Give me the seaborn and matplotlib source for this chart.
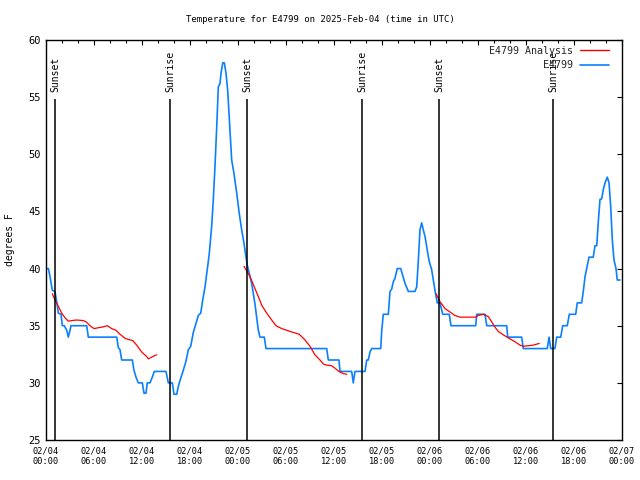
import pandas as pd
import matplotlib
matplotlib.use("Agg")
import matplotlib.pyplot as plt
import matplotlib.dates as mdates
from matplotlib.lines import Line2D
import seaborn as sns

# hours after 2025-02-04 00:00 UTC
obs_hours = [0.0, 0.3, 0.5, 0.79, 1.12, 1.34, 1.54, 1.88, 2.04, 2.29, 2.59, 2.79, 3.0, 3.12,
             5.09, 5.29, 8.84, 9.04, 9.25, 9.46, 10.79, 11.0, 11.25, 11.54, 12.04, 12.25,
             12.5, 12.66, 13.0, 13.29, 13.54, 15.0, 15.29, 15.79, 16.0, 16.34, 16.54, 16.84,
             17.16, 17.5, 17.79, 18.09, 18.41, 18.75, 19.04, 19.34, 19.59, 19.88, 20.16,
             20.41, 20.71, 20.91, 21.12, 21.34, 21.54, 21.75, 21.88, 22.09, 22.29, 22.5,
             22.71, 23.0, 23.21, 23.5, 23.84, 24.16, 24.46, 24.75, 25.0, 25.16, 25.5, 25.71,
             25.91, 26.12, 26.34, 26.54, 26.75, 27.29, 27.5, 35.09, 35.29, 36.62, 36.75,
             38.21, 38.41, 38.62, 39.88, 40.09, 40.29, 40.5, 40.71, 41.84, 41.96, 42.16,
             42.79, 43.0, 43.21, 43.41, 43.62, 43.91, 44.34, 44.59, 44.88, 45.29, 46.12,
             46.34, 46.54, 46.75, 46.96, 47.16, 47.38, 47.66, 47.91, 48.21, 48.41, 48.62,
             48.91, 49.25, 49.59, 50.41, 50.62, 53.71, 53.84, 54.88, 55.09, 57.59, 57.71,
             59.46, 59.66, 62.66, 62.88, 63.09, 63.62, 63.84, 64.34, 64.59, 65.16, 65.41,
             66.21, 66.41, 66.96, 67.16, 67.38, 67.59, 67.88, 68.41, 68.62, 68.84, 69.04,
             69.25, 69.46, 69.66, 69.88, 70.16, 70.38, 70.59, 70.79, 71.0, 71.25, 71.41, 71.75]
obs_temps = [40, 40, 39.3, 38.1, 38, 37.1, 36.1, 36, 35, 35, 34.6, 34, 34.6, 35,
             35, 34, 34, 33.1, 32.9, 32, 32, 31.1, 30.5, 30, 30, 29.1,
             29.1, 30, 30, 30.5, 31, 31, 30, 30, 29, 29, 29.7, 30.4,
             31.1, 31.9, 32.9, 33.2, 34.4, 35.2, 35.9, 36.1, 37.25, 38.4, 39.9,
             41.3, 43.7, 46, 48.9, 52.4, 55.9, 56.2, 57.1, 58, 58, 57.1,
             55.6, 52.1, 49.5, 48.3, 46.6, 44.8, 43.4, 42.2, 41.0, 40.3, 39.3, 38.7,
             37.8, 36.9, 35.7, 34.6, 34, 34, 33, 33, 32, 32, 31,
             31, 30, 31, 31, 32, 32, 32.7, 33, 33, 34.5, 36,
             36, 38, 38.2, 38.85, 39.15, 40, 40, 39.4, 38.7, 38, 38,
             38.4, 40.7, 43.4, 44, 43.4, 42.8, 41.6, 40.6, 39.9, 39, 38.1,
             37, 37, 36, 36, 35, 35, 36, 36, 35, 35, 34,
             34, 33, 33, 34, 33, 33, 34, 34, 35, 35, 36,
             36, 37, 37, 38, 39.3, 40, 41, 41, 42, 42, 44.1,
             46.05, 46.1, 46.9, 47.5, 48, 47.5, 45.4, 42.5, 40.75, 40, 39, 39]

ana1_hours = [0.79, 1.12, 1.54, 1.96, 2.37, 2.79, 3.21, 3.84, 4.66, 5.0, 5.5, 6.0, 6.75, 7.16,
              7.66, 8.21, 8.75, 9.25, 9.88, 10.29, 10.84, 11.34, 11.96, 12.59, 12.79, 13.21,
              13.62, 13.84]
ana1_temps = [37.8, 37.25, 36.7, 36.1, 35.7, 35.4, 35.45, 35.5, 35.45, 35.35, 35.0, 34.75, 34.85,
              34.9, 35.0, 34.75, 34.6, 34.25, 33.9, 33.8, 33.7, 33.3, 32.7, 32.3, 32.1, 32.25,
              32.4, 32.45]
ana2_hours = [24.75, 25.09, 25.5, 25.91, 26.54, 26.96, 27.59, 28.21, 28.75, 29.46, 30.5, 31.66,
              32.38, 33.0, 33.62, 34.25, 34.66, 35.1, 35.7, 36.1, 36.6, 37.2, 37.6]
ana2_temps = [40.2, 39.8, 39.3, 38.6, 37.55, 36.8, 36.1, 35.5, 35.0, 34.75, 34.5, 34.25,
              33.75, 33.2, 32.45, 32.0, 31.65, 31.55, 31.5, 31.3, 31.0, 30.8, 30.75]
ana3_hours = [48.75, 49.25, 49.88, 50.5, 51.1, 51.75, 53.7, 54.04, 54.66, 55.29, 55.7, 56.1,
              56.54, 57.16, 58.0, 58.62, 59.25, 59.66, 60.29, 60.9, 61.66]
ana3_temps = [37.8, 37.1, 36.5, 36.2, 35.9, 35.75, 35.75, 35.9, 36.0, 35.8, 35.35, 34.9,
              34.5, 34.2, 33.85, 33.6, 33.3, 33.2, 33.25, 33.3, 33.45]

event_names = ["Sunset", "Sunrise", "Sunset", "Sunrise", "Sunset", "Sunrise"]
event_hours = [1.17, 15.54, 25.17, 39.54, 49.17, 63.42]

base = pd.Timestamp("2025-02-04 00:00")


def to_time(hours):
    return base + pd.to_timedelta(hours, unit="h")


obs = pd.DataFrame({"time": to_time(obs_hours), "temp": obs_temps})
ana = pd.concat([
    pd.DataFrame({"time": to_time(h), "temp": t, "seg": i})
    for i, (h, t) in enumerate([(ana1_hours, ana1_temps),
                                (ana2_hours, ana2_temps),
                                (ana3_hours, ana3_temps)])
])

sns.set_theme(style="white")
plt.rcParams["font.family"] = ["DejaVu Sans Mono", "DejaVu Sans"]

blue = "#0a80ff"
red = "#ff0000"

fig = plt.figure(figsize=(6.4, 4.8), dpi=100)
ax = fig.add_axes([46 / 640, 40 / 480, 576 / 640, 400 / 480])

sns.lineplot(data=obs, x="time", y="temp", color=blue, lw=1.2,
             estimator=None, sort=False, ax=ax)
sns.lineplot(data=ana, x="time", y="temp", units="seg", color=red, lw=0.9,
             estimator=None, sort=False, ax=ax)

event_times = to_time(event_hours)
ax.vlines(event_times, 25, 54.85, color="black", lw=1.1)
for t, name in zip(event_times, event_names):
    ax.text(t, 55.45, name, rotation=90, ha="center", va="bottom",
            fontsize=7, color="black")

ax.set_xlim(base, base + pd.Timedelta(hours=72))
ax.set_ylim(25, 60)
ax.set_yticks(range(25, 61, 5))
ax.xaxis.set_major_locator(mdates.HourLocator(byhour=[0, 6, 12, 18]))
ax.xaxis.set_minor_locator(mdates.HourLocator(byhour=range(0, 24, 2)))
ax.xaxis.set_major_formatter(mdates.DateFormatter("%m/%d\n%H:%M"))

ax.tick_params(which="both", direction="in", top=True, right=True,
               color="black", labelcolor="black", width=0.8)
ax.tick_params(which="major", length=3.6)
ax.tick_params(axis="x", which="major", labelsize=6.2, pad=5)
ax.tick_params(axis="y", which="major", labelsize=7.5, pad=4)
ax.tick_params(which="minor", length=2)
for s in ax.spines.values():
    s.set_color("black")
    s.set_linewidth(1.0)

ax.set_xlabel("")
ax.set_ylabel("degrees F", fontsize=7, color="black", labelpad=9)
fig.text(0.5, 1 - 19 / 480, "Temperature for E4799 on 2025-Feb-04 (time in UTC)",
         ha="center", va="center", fontsize=6.5, color="black")

handles = [Line2D([], [], color=red, lw=1.0), Line2D([], [], color=blue, lw=1.2)]
ax.legend(handles, ["E4799 Analysis", "E4799"], loc="upper right",
          bbox_to_anchor=(0.9774, 0.986), markerfirst=False,
          frameon=False, fontsize=7.2, handlelength=2.9, handletextpad=0.7,
          labelspacing=0.45, borderpad=0, borderaxespad=0)

fig.savefig("out.png", dpi=100)
